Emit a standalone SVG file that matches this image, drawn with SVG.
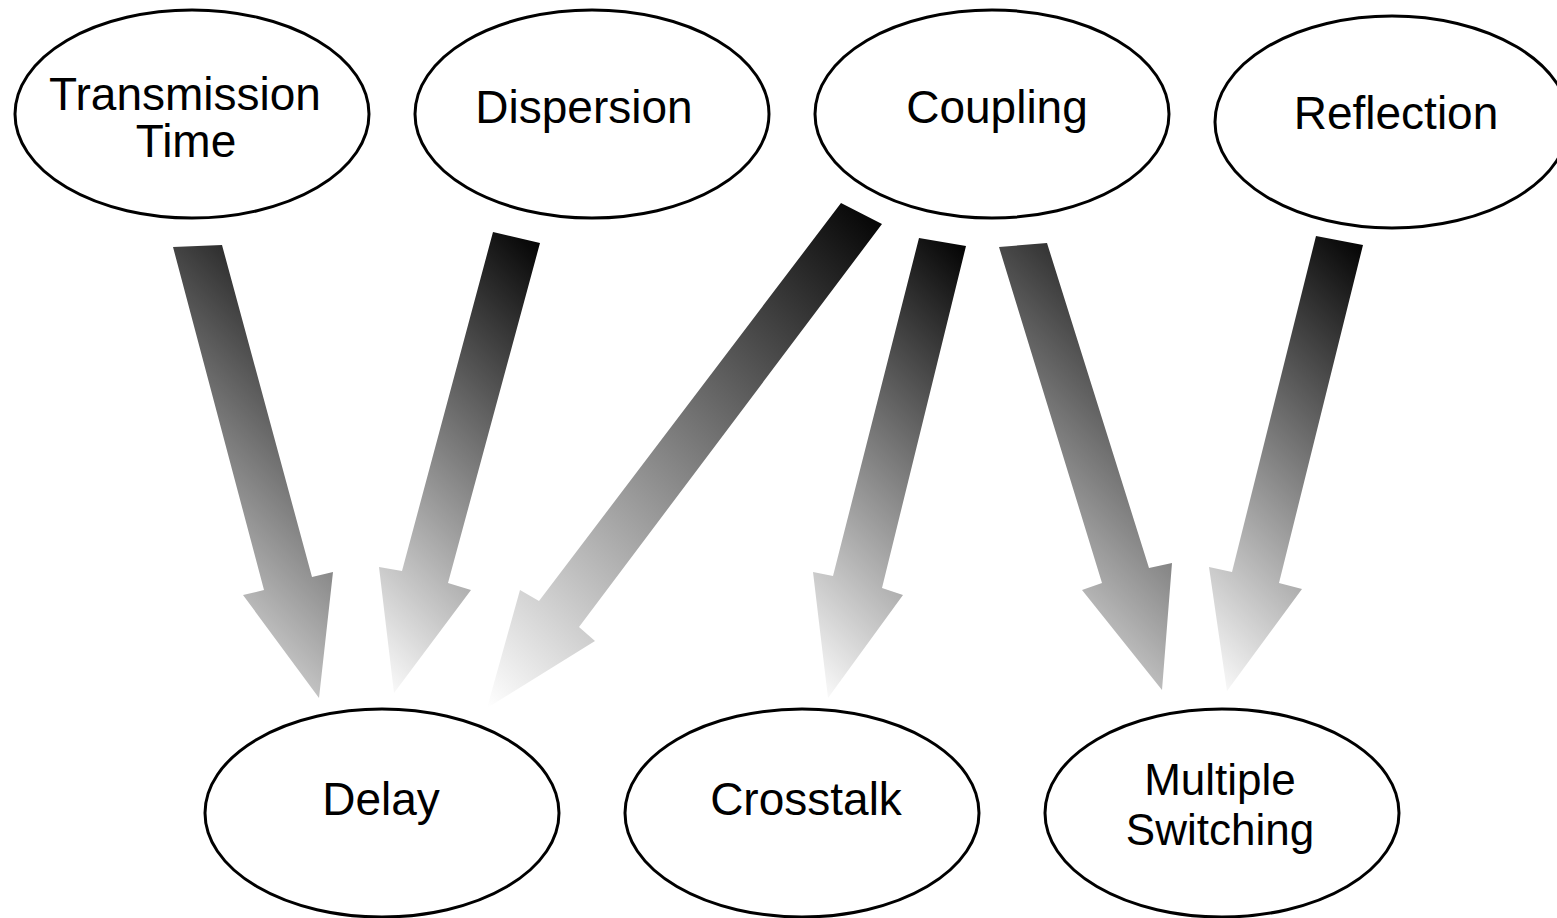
<svg xmlns="http://www.w3.org/2000/svg" width="1557" height="918" viewBox="0 0 1557 918">
<style>
.node ellipse{fill:#fff;stroke:#000;stroke-width:3}
.node text{font-family:"Liberation Sans",Arial,sans-serif;font-size:46px;fill:#000;text-anchor:middle}
.node text.sm{font-size:44px}
</style>
<defs>
<linearGradient id="g1" gradientUnits="userSpaceOnUse" x1="333" y1="245" x2="26.5" y2="551.5"><stop offset="0" stop-color="#000"/><stop offset="1" stop-color="#fff"/></linearGradient>
<linearGradient id="g2" gradientUnits="userSpaceOnUse" x1="540" y1="232" x2="229" y2="543"><stop offset="0" stop-color="#000"/><stop offset="1" stop-color="#fff"/></linearGradient>
<linearGradient id="g3" gradientUnits="userSpaceOnUse" x1="882" y1="203" x2="432" y2="653"><stop offset="0" stop-color="#000"/><stop offset="1" stop-color="#fff"/></linearGradient>
<linearGradient id="g4" gradientUnits="userSpaceOnUse" x1="966" y1="238" x2="659.5" y2="544.5"><stop offset="0" stop-color="#000"/><stop offset="1" stop-color="#fff"/></linearGradient>
<linearGradient id="g5" gradientUnits="userSpaceOnUse" x1="1172" y1="243" x2="862" y2="553"><stop offset="0" stop-color="#000"/><stop offset="1" stop-color="#fff"/></linearGradient>
<linearGradient id="g6" gradientUnits="userSpaceOnUse" x1="1363" y1="236" x2="1058.5" y2="540.5"><stop offset="0" stop-color="#000"/><stop offset="1" stop-color="#fff"/></linearGradient>
</defs>
<rect width="1557" height="918" fill="#fff"/>
<g id="connectors">
<polygon id="e-trans-delay" fill="url(#g1)" points="173,247 222,245 312,577 333,572 319,698 243,595 264,590"/>
<polygon id="e-disp-delay" fill="url(#g2)" points="493,232 540,243 448,583 471,590 394,693 379,567 402,571"/>
<polygon id="e-coup-delay" fill="url(#g3)" points="841,203 882,224 579,627 595,641 487,708 520,590 539,601"/>
<polygon id="e-coup-cross" fill="url(#g4)" points="919,238 966,246 882,588 903,595 828,698 813,572 833,576"/>
<polygon id="e-coup-multi" fill="url(#g5)" points="999,247 1047,243 1149,568 1172,563 1162,690 1082,590 1102,583"/>
<polygon id="e-refl-multi" fill="url(#g6)" points="1316,236 1363,245 1279,583 1302,589 1227,691 1209,567 1232,572"/>
</g>
<g id="n-transmission" class="node"><ellipse cx="192" cy="114" rx="177" ry="104"/><text x="185" y="110">Transmission</text><text x="186" y="157">Time</text></g>
<g id="n-dispersion" class="node"><ellipse cx="592" cy="114" rx="177" ry="104"/><text x="584" y="123">Dispersion</text></g>
<g id="n-coupling" class="node"><ellipse cx="992" cy="114" rx="177" ry="104"/><text x="997" y="123">Coupling</text></g>
<g id="n-reflection" class="node"><ellipse cx="1392" cy="122" rx="177" ry="106"/><text x="1396" y="129">Reflection</text></g>
<g id="n-delay" class="node"><ellipse cx="382" cy="813" rx="177" ry="104"/><text x="381" y="815">Delay</text></g>
<g id="n-crosstalk" class="node"><ellipse cx="802" cy="813" rx="177" ry="104"/><text x="806" y="815">Crosstalk</text></g>
<g id="n-multiple" class="node"><ellipse cx="1222" cy="813" rx="177" ry="104"/><text class="sm" x="1220" y="795">Multiple</text><text class="sm" x="1220" y="845">Switching</text></g>
</svg>
